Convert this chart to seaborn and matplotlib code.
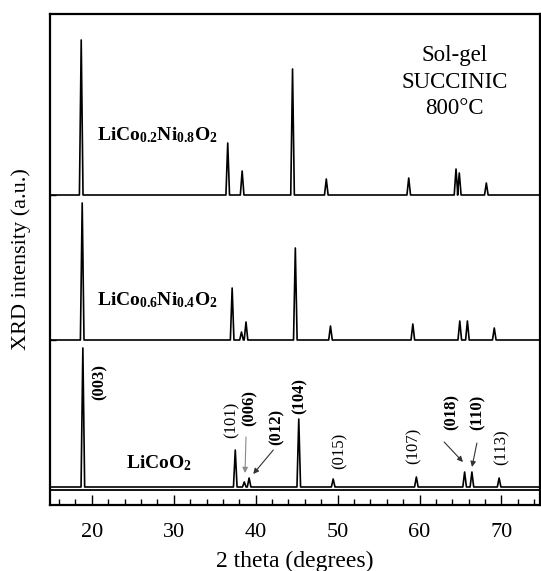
import matplotlib
matplotlib.use("Agg")
import matplotlib.pyplot as plt
import pandas as pd
import seaborn as sns
from matplotlib.ticker import MultipleLocator

# ---------------- data ----------------
sample_labels = [r"$\mathbf{LiCo_{0.2}Ni_{0.8}O_2}$",
                 r"$\mathbf{LiCo_{0.6}Ni_{0.4}O_2}$",
                 r"$\mathbf{LiCoO_2}$"]
offsets = [310, 165, 18]          # vertical stacking offsets (a.u.)

peaks_top = [18.71, 36.59, 38.35, 44.50, 48.62, 58.68, 64.45, 64.85, 68.15]
heights_top = [155, 52, 24, 126, 16, 17, 26, 22, 12]

peaks_mid = [18.83, 37.13, 38.27, 38.82, 44.84, 49.13, 59.18, 64.91, 65.84, 69.12]
heights_mid = [137, 52, 8, 18, 92, 14, 16, 19, 19, 12]

peaks_bot = [18.91, 37.51, 38.61, 39.20, 45.26, 49.46, 59.61, 65.50, 66.39, 69.71]
heights_bot = [139, 37, 5, 9, 68, 8, 10, 15, 15, 9]

hkl_labels = ["(003)", "(101)", "(006)", "(012)", "(104)", "(015)",
              "(107)", "(018)", "(110)", "(113)"]
hkl_bold = [True, False, True, True, True, False, False, True, True, False]
hkl_x = [21.0, 37.1, 39.3, 42.5, 45.4, 50.3, 59.3, 63.9, 67.1, 70.0]
hkl_y = [123, 85, 97, 78, 109, 54, 59, 93, 93, 58]

xlim = (14.9, 74.7)

# ---------------- style ----------------
sns.set_theme(style="ticks")
plt.rcParams["font.family"] = ["Liberation Serif", "DejaVu Serif"]
plt.rcParams["mathtext.fontset"] = "custom"
plt.rcParams["mathtext.rm"] = "Liberation Serif"
plt.rcParams["mathtext.bf"] = "Liberation Serif:bold"
plt.rcParams["mathtext.it"] = "Liberation Serif:italic"
plt.rcParams["text.color"] = "black"
plt.rcParams["axes.labelcolor"] = "black"
plt.rcParams["xtick.color"] = "black"
plt.rcParams["ytick.color"] = "black"
plt.rcParams["xtick.labelcolor"] = "black"

fig = plt.figure(figsize=(5.41, 5.71), dpi=100)
ax = fig.add_axes([50 / 541, 1 - 505 / 571, 490 / 541, 491 / 571])


def trace(pos, h, base, hw=0.22):
    xs, ys = [xlim[0]], [base]
    for p, v in zip(pos, h):
        xs += [p - hw, p, p + hw]
        ys += [base, base + v, base]
    xs.append(xlim[1])
    ys.append(base)
    return pd.DataFrame({"two_theta": xs, "intensity": ys})


for pos, h, off in [(peaks_top, heights_top, offsets[0]),
                    (peaks_mid, heights_mid, offsets[1]),
                    (peaks_bot, heights_bot, offsets[2])]:
    df = trace(pos, h, off)
    sns.lineplot(data=df, x="two_theta", y="intensity", ax=ax, color="black",
                 lw=1.2, sort=False, estimator=None)

ax.axhline(15.5, color="black", lw=1.3)

# sample labels
ax.text(20.6, 370, sample_labels[0], fontsize=14, va="center", ha="left", color="black")
ax.text(20.6, 205, sample_labels[1], fontsize=14, va="center", ha="left", color="black")
ax.text(24.2, 42, sample_labels[2], fontsize=14, va="center", ha="left", color="black")

# condition text
for txt, y in zip(["Sol-gel", "SUCCINIC", "800°C"], [450, 423, 397]):
    ax.text(64.3, y, txt, fontsize=16.5, ha="center", va="center", color="black")

# hkl labels
for lab, b, x, y in zip(hkl_labels, hkl_bold, hkl_x, hkl_y):
    ax.text(x, y, lab, rotation=90, fontsize=12, ha="center", va="center",
            fontweight="bold" if b else "normal", color="black")

# arrows
arrow_specs = [((38.82, 68), (38.70, 32), "#8a8a8a"),
               ((42.15, 55), (39.70, 31), "#333333"),
               ((63.0, 63), (65.3, 43), "#333333"),
               ((67.0, 62), (66.4, 38), "#333333")]
for start, end, c in arrow_specs:
    ax.annotate("", xy=end, xytext=start,
                arrowprops=dict(arrowstyle="-|>", color=c, lw=0.8,
                                mutation_scale=8, shrinkA=0, shrinkB=0))

ax.set_xlim(*xlim)
ax.set_ylim(0, 491)
ax.xaxis.set_major_locator(MultipleLocator(10))
ax.xaxis.set_minor_locator(MultipleLocator(2))
ax.tick_params(axis="x", which="both", direction="in", top=False,
               labelsize=16, pad=13, color="black", labelcolor="black")
ax.tick_params(axis="x", which="major", length=7, width=1.0)
ax.tick_params(axis="x", which="minor", length=4, width=1.0)
ax.set_yticks(offsets[:2])
ax.tick_params(axis="y", which="both", direction="in", length=4, width=1.0,
               labelleft=False, color="black")
for s in ax.spines.values():
    s.set_visible(True)
    s.set_linewidth(1.6)
    s.set_color("black")

ax.set_xlabel("2 theta (degrees)", fontsize=17, labelpad=6, color="black")
ax.set_ylabel("XRD intensity (a.u.)", fontsize=16, labelpad=14, color="black")

fig.savefig("out.png", dpi=100)
